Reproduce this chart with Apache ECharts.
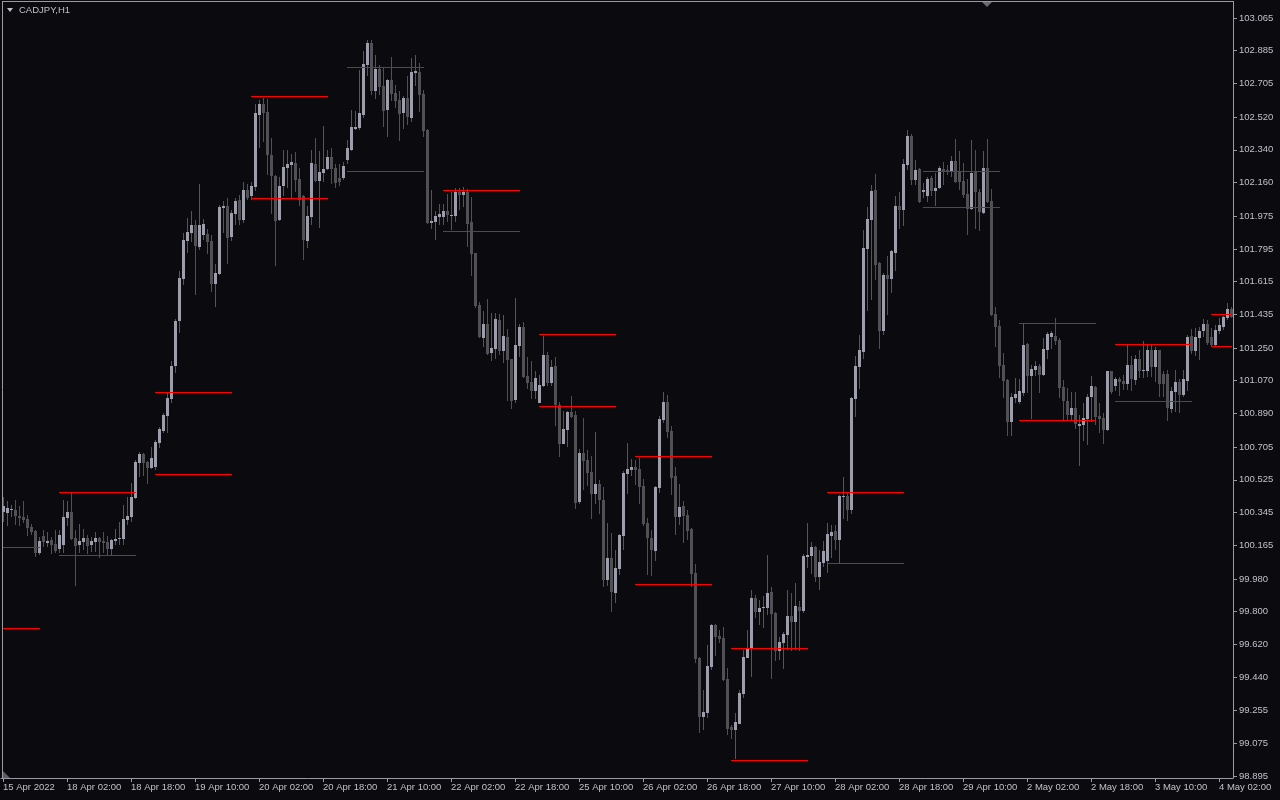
<!DOCTYPE html>
<html><head><meta charset="utf-8">
<script src="https://cdn.jsdelivr.net/npm/echarts@6/dist/echarts.min.js"></script>
<style>html,body{margin:0;padding:0;background:#0a0a0f;}#c{width:1280px;height:800px;}</style>
</head><body><div id="c"></div>
<script>
const xTickLabels = ['15 Apr 2022','18 Apr 02:00','18 Apr 18:00','19 Apr 10:00','20 Apr 02:00','20 Apr 18:00','21 Apr 10:00','22 Apr 02:00','22 Apr 18:00','25 Apr 10:00','26 Apr 02:00','26 Apr 18:00','27 Apr 10:00','28 Apr 02:00','28 Apr 18:00','29 Apr 10:00','2 May 02:00','2 May 18:00','3 May 10:00','4 May 02:00'];
const yTickValues = [103.065,102.885,102.705,102.520,102.340,102.160,101.975,101.795,101.615,101.435,101.250,101.070,100.890,100.705,100.525,100.345,100.165,99.980,99.800,99.620,99.440,99.255,99.075,98.895];

const opens = [
100.348,100.342,100.362,100.359,100.326,100.320,100.309,100.266,100.244,100.122,
100.216,100.178,100.194,100.172,100.144,100.167,100.315,100.348,100.205,100.167,
100.183,100.205,100.167,100.183,100.205,100.188,100.183,100.144,100.188,100.199,
100.199,100.304,100.320,100.425,100.618,100.667,100.623,100.590,100.596,100.728,
100.794,100.876,100.970,101.151,101.398,101.630,101.839,101.883,101.926,101.806,
101.871,101.877,101.838,101.602,101.657,102.020,102.031,101.861,101.987,102.064,
101.954,102.119,102.086,102.136,102.532,102.592,102.548,102.312,102.196,101.954,
102.141,102.240,102.257,102.268,102.180,102.086,101.839,101.970,102.262,102.169,
102.213,102.235,102.301,102.240,102.185,102.185,102.284,102.339,102.455,102.460,
102.532,102.807,102.928,102.664,102.785,102.691,102.559,102.724,102.653,102.614,
102.543,102.625,102.515,102.763,102.768,102.647,102.449,101.937,101.943,101.970,
101.970,102.004,101.976,101.976,102.108,102.092,102.108,101.943,101.772,101.487,
101.305,101.382,101.222,101.244,101.404,101.233,101.310,101.189,100.964,101.261,
101.366,101.096,101.063,101.013,100.948,101.041,101.211,101.057,101.151,100.937,
100.722,100.799,100.898,100.882,100.403,100.673,100.634,100.568,100.447,100.502,
100.414,99.974,100.095,99.903,100.034,100.216,100.557,100.579,100.596,100.585,
100.491,100.288,100.205,100.133,100.480,100.854,100.953,100.794,100.546,100.320,
100.381,100.332,100.255,100.012,99.545,99.220,99.243,99.496,99.727,99.666,
99.655,99.430,99.166,99.149,99.182,99.347,99.545,99.595,99.875,99.798,
99.820,99.820,99.908,99.793,99.584,99.628,99.672,99.776,99.743,99.826,
99.804,100.101,100.106,100.156,99.990,100.068,100.078,100.216,100.244,100.194,
100.431,100.436,100.359,100.970,101.145,101.228,101.795,101.954,102.119,101.717,
101.343,101.651,101.630,101.772,102.031,102.009,102.257,102.416,102.174,102.235,
102.108,102.086,102.185,102.114,102.130,102.235,102.229,102.218,102.279,102.218,
102.169,102.097,102.015,102.224,102.108,101.992,102.240,102.059,101.437,101.371,
101.156,101.074,100.843,100.975,100.953,101.002,101.272,101.096,101.129,101.151,
101.101,101.239,101.310,101.316,101.294,101.036,100.959,100.882,100.920,100.821,
100.826,100.860,100.981,101.036,100.876,100.865,100.799,101.123,101.041,101.079,
101.068,101.052,101.156,101.074,101.189,101.123,101.123,101.239,101.145,101.239,
101.107,101.107,100.914,101.008,101.063,100.992,101.068,101.316,101.233,101.305,
101.343,101.382,101.310,101.266,101.343,101.365,101.415,101.464];

const highs = [
100.431,100.409,100.387,100.414,100.381,100.409,100.332,100.282,100.249,100.210,
100.249,100.238,100.210,100.249,100.249,100.414,100.409,100.453,100.249,100.282,
100.255,100.222,100.210,100.238,100.210,100.238,100.216,100.197,100.255,100.293,
100.387,100.431,100.508,100.634,100.678,100.673,100.629,100.706,100.744,100.816,
100.893,101.003,101.179,101.410,101.674,101.883,101.965,102.004,101.954,102.152,
101.960,101.904,101.871,101.712,102.037,102.059,102.075,102.009,102.075,102.092,
102.163,102.152,102.163,102.592,102.614,102.625,102.620,102.405,102.202,102.191,
102.339,102.339,102.317,102.328,102.240,102.090,102.031,102.339,102.405,102.334,
102.471,102.339,102.350,102.262,102.262,102.273,102.394,102.559,102.554,102.779,
102.884,102.944,102.944,102.862,102.807,102.796,102.730,102.851,102.697,102.664,
102.636,102.746,102.845,102.862,102.818,102.669,102.452,102.119,102.004,102.042,
102.042,102.097,102.108,102.130,102.130,102.136,102.125,102.081,101.775,101.503,
101.453,101.519,101.442,101.442,101.437,101.431,101.354,101.192,101.525,101.382,
101.393,101.200,101.178,101.123,101.101,101.316,101.228,101.184,101.200,100.953,
100.904,100.904,100.986,100.904,100.695,100.865,100.689,100.656,100.788,100.524,
100.486,100.288,100.233,100.139,100.225,100.574,100.728,100.640,100.634,100.645,
100.530,100.315,100.249,100.491,100.876,101.008,100.992,100.821,100.596,100.502,
100.409,100.359,100.258,100.062,99.548,99.369,99.616,99.732,99.732,99.699,
99.715,99.490,99.177,99.243,99.369,99.589,99.699,99.919,99.892,99.864,
99.886,100.111,99.936,99.796,99.660,99.688,99.919,99.903,99.958,99.859,
100.117,100.288,100.183,100.159,100.139,100.188,100.288,100.277,100.277,100.440,
100.540,100.458,100.978,101.206,101.321,101.899,102.026,102.147,102.207,101.723,
101.662,101.756,101.789,102.086,102.108,102.290,102.449,102.427,102.284,102.240,
102.158,102.191,102.196,102.213,102.251,102.273,102.257,102.306,102.400,102.334,
102.268,102.180,102.394,102.339,102.125,102.334,102.400,102.125,101.475,101.404,
101.222,101.077,101.003,101.085,101.079,101.382,101.277,101.156,101.178,101.162,
101.305,101.338,101.343,101.415,101.305,101.074,101.030,101.008,101.008,100.882,
100.948,100.997,101.096,101.041,100.948,100.893,101.126,101.126,101.090,101.090,
101.101,101.266,101.206,101.211,101.239,101.288,101.266,101.272,101.255,101.241,
101.123,101.129,101.035,101.129,101.079,101.129,101.321,101.354,101.360,101.365,
101.409,101.404,101.360,101.376,101.415,101.426,101.497,101.475];

const lows = [
100.293,100.271,100.320,100.277,100.271,100.288,100.216,100.222,100.101,100.111,
100.155,100.155,100.117,100.122,100.122,100.122,100.271,100.194,99.941,100.122,
100.139,100.117,100.128,100.128,100.095,100.122,100.111,100.111,100.167,100.167,
100.167,100.277,100.293,100.420,100.540,100.546,100.502,100.584,100.579,100.700,
100.783,100.783,100.948,101.113,101.333,101.597,101.773,101.833,101.542,101.789,
101.844,101.767,101.558,101.476,101.651,101.883,101.712,101.839,101.926,101.926,
101.938,102.064,102.064,102.114,102.350,102.383,102.202,101.987,101.701,101.948,
102.086,102.130,102.075,102.108,102.031,101.734,101.800,101.926,102.163,101.910,
102.163,102.229,102.152,102.130,102.141,102.174,102.262,102.334,102.449,102.449,
102.515,102.746,102.642,102.620,102.642,102.466,102.411,102.609,102.570,102.389,
102.455,102.477,102.493,102.691,102.548,102.411,101.932,101.904,101.844,101.926,
101.926,101.943,101.899,101.943,102.009,102.026,101.806,101.645,101.470,101.305,
101.255,101.214,101.178,101.189,101.211,101.167,100.959,100.915,100.948,101.200,
101.087,101.024,100.970,100.970,100.945,101.038,101.041,101.041,100.821,100.650,
100.720,100.706,100.865,100.365,100.392,100.469,100.491,100.310,100.392,100.337,
99.936,99.941,99.798,99.848,100.001,100.139,100.447,100.546,100.497,100.392,
100.271,100.001,99.996,100.078,100.453,100.838,100.755,100.442,100.222,100.277,
100.178,100.194,99.936,99.518,99.132,99.149,99.215,99.479,99.556,99.627,
99.421,99.122,99.099,98.989,99.180,99.325,99.543,99.441,99.765,99.727,
99.710,99.782,99.430,99.529,99.534,99.485,99.589,99.584,99.589,99.584,
99.793,100.040,100.007,99.963,99.919,100.046,100.012,100.095,100.139,100.068,
100.310,100.299,100.337,100.871,101.024,101.189,101.453,101.514,101.624,101.245,
101.321,101.431,101.552,101.673,101.904,101.921,102.229,102.147,102.147,102.050,
102.075,102.053,102.086,102.031,102.125,102.147,102.202,102.191,102.160,102.119,
102.075,101.871,102.009,101.904,101.893,101.987,102.048,101.428,101.255,101.085,
100.975,100.765,100.766,100.948,100.942,100.986,101.002,100.860,101.096,101.002,
101.096,101.189,101.244,101.266,100.975,100.854,100.854,100.854,100.805,100.601,
100.739,100.717,100.843,100.827,100.783,100.722,100.794,100.997,101.013,100.986,
101.019,101.019,101.013,101.046,101.085,101.085,101.090,101.090,101.063,100.981,
100.981,100.848,100.893,100.898,100.893,100.981,101.013,101.217,101.206,101.184,
101.310,101.266,101.255,101.261,101.327,101.349,101.404,101.415];

const closes = [
100.381,100.370,100.365,100.326,100.315,100.304,100.260,100.238,100.122,100.188,
100.183,100.188,100.167,100.133,100.222,100.320,100.348,100.199,100.161,100.188,
100.205,100.161,100.188,100.205,100.183,100.178,100.144,100.194,100.199,100.205,
100.309,100.326,100.431,100.623,100.667,100.618,100.590,100.645,100.733,100.805,
100.882,100.975,101.151,101.398,101.635,101.844,101.888,101.926,101.811,101.926,
101.932,101.833,101.602,101.662,102.026,102.031,101.855,101.992,102.059,101.954,
102.119,102.075,102.141,102.543,102.592,102.543,102.312,102.196,101.948,102.141,
102.246,102.262,102.273,102.174,102.064,101.844,101.976,102.268,102.169,102.218,
102.235,102.301,102.235,102.158,102.163,102.251,102.350,102.466,102.466,102.543,
102.812,102.928,102.664,102.785,102.686,102.554,102.724,102.647,102.609,102.537,
102.625,102.521,102.768,102.774,102.642,102.444,101.937,101.948,101.976,101.987,
102.004,101.981,101.981,102.108,102.092,102.108,101.932,101.767,101.481,101.311,
101.382,101.217,101.250,101.409,101.233,101.316,101.184,100.959,101.266,101.366,
101.090,101.057,101.013,101.085,101.046,101.211,101.057,101.145,100.937,100.722,
100.805,100.898,100.871,100.398,100.673,100.629,100.563,100.447,100.502,100.414,
99.974,100.095,99.908,100.040,100.222,100.563,100.585,100.596,100.579,100.486,
100.282,100.205,100.139,100.486,100.859,100.953,100.788,100.535,100.320,100.376,
100.326,100.244,100.007,99.540,99.220,99.248,99.501,99.727,99.661,99.649,
99.424,99.155,99.149,99.193,99.353,99.551,99.595,99.875,99.798,99.820,
99.826,99.903,99.787,99.584,99.633,99.677,99.776,99.743,99.831,99.804,
100.106,100.111,100.156,99.990,100.073,100.133,100.227,100.238,100.194,100.436,
100.436,100.359,100.975,101.151,101.238,101.800,101.959,102.114,101.706,101.343,
101.651,101.630,101.783,102.031,102.009,102.262,102.416,102.174,102.229,102.053,
102.119,102.180,102.114,102.130,102.240,102.218,102.218,102.279,102.163,102.163,
102.092,102.015,102.213,102.108,101.998,102.240,102.053,101.431,101.366,101.151,
101.068,100.843,100.981,100.997,101.013,101.266,101.096,101.134,101.151,101.101,
101.244,101.327,101.332,101.288,101.030,100.959,100.882,100.920,100.832,100.832,
100.865,100.981,101.041,100.871,100.860,100.799,101.123,101.008,101.079,101.063,
101.052,101.156,101.079,101.189,101.123,101.129,101.239,101.145,101.239,101.052,
101.052,100.920,101.013,101.063,100.992,101.079,101.310,101.233,101.310,101.343,
101.382,101.277,101.266,101.349,101.376,101.420,101.464,101.420];

// daily levels (red lines): bar index where each starts / ends, upper and lower price
const levelStart = [0,14,38,62,86,110,134,158,182,206,230,254,278,302];
const levelEnd   = [9,33,57,81,105,129,153,177,201,225,249,273,297,307];
const levelHigh  = [100.154,100.456,101.006,102.634,102.794,102.117,101.325,100.654,99.598,100.456,102.222,101.386,101.270,101.435];
const levelLow   = [99.708,100.110,100.555,102.073,102.222,101.892,100.929,99.950,98.982,100.066,102.024,100.852,100.957,101.259];

const BG = '#0a0a0f', TXT = '#c0c0c8', AX = '#9a9aa2';
const BULL = '#9d9eac', BEAR = '#505055', WICK = '#55555a';
const FONT = '"Liberation Sans", Arial, sans-serif';

const chart = echarts.init(document.getElementById('c'), null, {renderer: 'canvas', width: 1280, height: 800});
const categories = opens.map((_, i) => String(i));
const candleData = opens.map((o, i) => [i, o, closes[i], lows[i], highs[i]]);
const levelData = [];
levelStart.forEach((s, k) => {
  levelData.push([s, levelEnd[k], levelHigh[k]]);
  levelData.push([s, levelEnd[k], levelLow[k]]);
});
const showTick = (i) => i % 16 === 0;

chart.setOption({
  backgroundColor: BG,
  animation: false,
  grid: {left: 1, right: 47, top: 2, bottom: 22, show: false},
  xAxis: {
    type: 'category', data: categories, boundaryGap: true,
    axisLine: {show: true, lineStyle: {color: AX}},
    axisTick: {show: true, alignWithLabel: true, interval: showTick, length: 4, lineStyle: {color: AX}},
    axisLabel: {interval: showTick, formatter: (v, i) => xTickLabels[i / 16] || '', align: 'left',
      color: TXT, fontFamily: FONT, fontSize: 9.5, margin: 4, hideOverlap: false},
    splitLine: {show: false}
  },
  yAxis: {
    type: 'value', position: 'right', min: 98.885, max: 103.153,
    axisLine: {show: true, lineStyle: {color: AX}},
    axisTick: {show: true, length: 4, customValues: yTickValues, lineStyle: {color: AX}},
    axisLabel: {customValues: yTickValues, formatter: v => Number(v).toFixed(3), color: TXT,
      fontFamily: FONT, fontSize: 9.5, margin: 6},
    splitLine: {show: false}
  },
  series: [
    {
      type: 'custom', name: 'CADJPY', clip: true,
      encode: {x: 0, y: [1, 2, 3, 4]},
      data: candleData,
      renderItem: function (params, api) {
        const i = api.value(0);
        const o = api.value(1), c = api.value(2), l = api.value(3), h = api.value(4);
        const po = api.coord([i, o]), pc = api.coord([i, c]);
        const pl = api.coord([i, l]), ph = api.coord([i, h]);
        const cx = Math.round(po[0]);
        const yTop = Math.round(Math.min(po[1], pc[1]));
        const yBot = Math.round(Math.max(po[1], pc[1]));
        const wTop = Math.round(ph[1]), wBot = Math.round(pl[1]);
        const bull = c >= o;
        return {type: 'group', children: [
          {type: 'rect', shape: {x: cx, y: wTop, width: 1, height: Math.max(1, wBot - wTop)}, style: {fill: bull ? WICK : BEAR}},
          {type: 'rect', shape: {x: cx - 1, y: yTop, width: 3, height: Math.max(1, yBot - yTop)}, style: {fill: bull ? BULL : BEAR}}
        ]};
      }
    },
    {
      type: 'custom', name: 'levels', clip: true,
      encode: {x: [0, 1], y: 2},
      data: levelData,
      renderItem: function (params, api) {
        const a = api.coord([api.value(0), api.value(2)]);
        const b = api.coord([api.value(1), api.value(2)]);
        const y = Math.floor(a[1]) + 0.5;
        return {type: 'line', shape: {x1: Math.round(a[0]), y1: y, x2: Math.round(b[0]) + 1, y2: y},
          style: {stroke: '#ff0000', lineWidth: 1}};
      }
    }
  ],
  graphic: [
    {type: 'line', shape: {x1: 2.5, y1: 1.5, x2: 2.5, y2: 778}, style: {stroke: AX, lineWidth: 1}, silent: true},
    {type: 'line', shape: {x1: 2, y1: 1.5, x2: 1234, y2: 1.5}, style: {stroke: AX, lineWidth: 1}, silent: true},
    {type: 'polygon', shape: {points: [[3, 771], [3, 778], [10, 778]]}, style: {fill: '#5c5c66'}, silent: true},
    {type: 'polygon', shape: {points: [[7, 8], [13, 8], [10, 12]]}, style: {fill: TXT}, silent: true},
    {type: 'polygon', shape: {points: [[982, 2], [992, 2], [987, 7]]}, style: {fill: '#6a6a72'}, silent: true},
    {type: 'text', x: 19, y: 10, style: {text: 'CADJPY,H1', fill: TXT, fontSize: 9.5, fontFamily: FONT, verticalAlign: 'middle'}, silent: true}
  ]
});
</script>
</body></html>
